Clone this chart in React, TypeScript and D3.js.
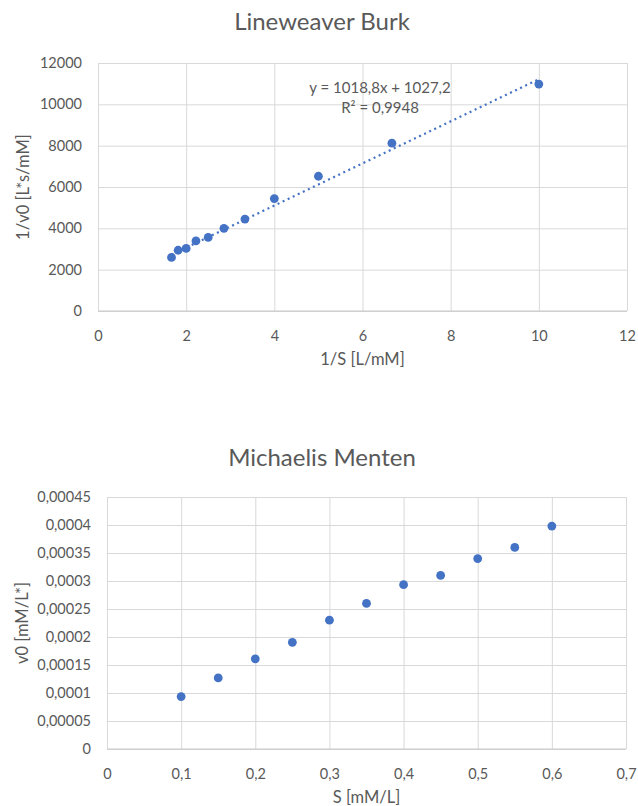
import React, { useRef, useEffect } from "react";
import { select, scaleLinear, axisLeft, axisBottom, formatLocale, line } from "d3";

// Lineweaver Burk (1/S vs 1/v0)
const lbX = [1.667, 1.818, 2, 2.222, 2.5, 2.857, 3.333, 4, 5, 6.667, 10];
const lbY = [2590, 2940, 3030, 3390, 3560, 4000, 4450, 5440, 6520, 8120, 10980];
const lbXTicks = [0, 2, 4, 6, 8, 10, 12];
const lbYTicks = [0, 2000, 4000, 6000, 8000, 10000, 12000];
const lbSlope = 1018.8;
const lbIntercept = 1027.2;
const lbLabel = ["y = 1018,8x + 1027,2", "R² = 0,9948"];

// Michaelis Menten (S vs v0)
const mmX = [0.1, 0.15, 0.2, 0.25, 0.3, 0.35, 0.4, 0.45, 0.5, 0.55, 0.6];
const mmY = [0.0000937, 0.000127, 0.000161, 0.0001905, 0.00023, 0.00026, 0.0002935, 0.00031, 0.00034, 0.00036, 0.000398];
const mmXTicks = [0, 0.1, 0.2, 0.3, 0.4, 0.5, 0.6, 0.7];
const mmYTicks = [0, 0.00005, 0.0001, 0.00015, 0.0002, 0.00025, 0.0003, 0.00035, 0.0004, 0.00045];

const locale = formatLocale({ decimal: ",", thousands: ".", grouping: [3], currency: ["", ""] });
const fmt = locale.format("~f");

const FONT = "Lato, 'Open Sans', sans-serif";
const TEXT = "#595959";
const GRID = "#d9d9d9";
const BLUE = "#4472C4";

function ScatterChart({ title, xTitle, yTitle, xs, ys, xTicks, yTicks, box, titleY, yTitleX, trend }) {
  const gRef = useRef(null);

  useEffect(() => {
    const g = select(gRef.current);
    g.selectAll("*").remove();

    const x = scaleLinear().domain([xTicks[0], xTicks[xTicks.length - 1]]).range([box.left, box.right]);
    const y = scaleLinear().domain([yTicks[0], yTicks[yTicks.length - 1]]).range([box.bottom, box.top]);

    // horizontal grid + y labels
    const ya = axisLeft(y).tickValues(yTicks).tickFormat(fmt).tickSize(-(box.right - box.left)).tickPadding(16);
    const yg = g.append("g").attr("transform", `translate(${box.left},0)`).call(ya);
    yg.select(".domain").remove();
    yg.selectAll("line").attr("stroke", GRID);
    yg.selectAll("text").attr("fill", TEXT).attr("font-size", 14.5).attr("font-family", FONT);

    // vertical grid + x labels
    const xa = axisBottom(x).tickValues(xTicks).tickFormat(fmt).tickSize(-(box.bottom - box.top));
    const xg = g.append("g").attr("transform", `translate(0,${box.bottom})`).call(xa);
    xg.select(".domain").remove();
    xg.selectAll("line").attr("stroke", GRID);
    xg.selectAll("text").attr("fill", TEXT).attr("font-size", 14.5).attr("font-family", FONT)
      .attr("y", 25).attr("dy", "0.35em");

    // axis line
    g.append("line")
      .attr("x1", box.left).attr("x2", box.right)
      .attr("y1", y(0)).attr("y2", y(0))
      .attr("stroke", "#c8c8c8");

    // trendline
    if (trend) {
      const xr = [Math.min(...xs), Math.max(...xs)];
      const path = line()
        .x((d) => x(d))
        .y((d) => y(trend.slope * d + trend.intercept));
      g.append("path")
        .attr("d", path(xr))
        .attr("fill", "none")
        .attr("stroke", BLUE)
        .attr("stroke-width", 2.2)
        .attr("stroke-dasharray", "2,3.6");
      g.selectAll(".trend-label")
        .data(trend.label)
        .join("text")
        .attr("class", "trend-label")
        .attr("x", trend.lx)
        .attr("y", (d, i) => trend.ly + i * 20)
        .attr("dy", "0.35em")
        .attr("text-anchor", "middle")
        .attr("font-size", 15)
        .attr("font-family", FONT)
        .attr("fill", TEXT)
        .text((d) => d);
    }

    // points
    g.selectAll(".dot")
      .data(xs.map((v, i) => [v, ys[i]]))
      .join("circle")
      .attr("class", "dot")
      .attr("cx", (d) => x(d[0]))
      .attr("cy", (d) => y(d[1]))
      .attr("r", 4.4)
      .attr("fill", BLUE);

    // titles
    g.append("text")
      .attr("x", 322).attr("y", titleY).attr("dy", "0.35em")
      .attr("text-anchor", "middle").attr("font-size", 24).attr("font-family", FONT).attr("fill", TEXT)
      .text(title);
    g.append("text")
      .attr("x", (box.left + box.right) / 2).attr("y", box.bottom + 48).attr("dy", "0.35em")
      .attr("text-anchor", "middle").attr("font-size", 16.5).attr("font-family", FONT).attr("fill", TEXT)
      .text(xTitle);
    g.append("text")
      .attr("transform", `translate(${yTitleX},${(box.top + box.bottom) / 2}) rotate(-90)`)
      .attr("dy", "0.35em")
      .attr("text-anchor", "middle").attr("font-size", 16.5).attr("font-family", FONT).attr("fill", TEXT)
      .text(yTitle);
  }, []);

  return <g ref={gRef} />;
}

export default function App() {
  return (
    <svg width={638} height={806} style={{ position: "absolute", left: 0, top: 0, background: "#fff" }}>
      <rect width={638} height={806} fill="#fff" />
      <ScatterChart
        title="Lineweaver Burk"
        xTitle="1/S [L/mM]"
        yTitle="1/v0 [L*s/mM]"
        xs={lbX}
        ys={lbY}
        xTicks={lbXTicks}
        yTicks={lbYTicks}
        box={{ left: 98, right: 627, top: 63, bottom: 311 }}
        titleY={22}
        yTitleX={23}
        trend={{ slope: lbSlope, intercept: lbIntercept, label: lbLabel, lx: 380, ly: 88 }}
      />
      <ScatterChart
        title="Michaelis Menten"
        xTitle="S [mM/L]"
        yTitle="v0 [mM/L*]"
        xs={mmX}
        ys={mmY}
        xTicks={mmXTicks}
        yTicks={mmYTicks}
        box={{ left: 107, right: 626, top: 497, bottom: 749 }}
        titleY={458}
        yTitleX={22}
        trend={null}
      />
    </svg>
  );
}
